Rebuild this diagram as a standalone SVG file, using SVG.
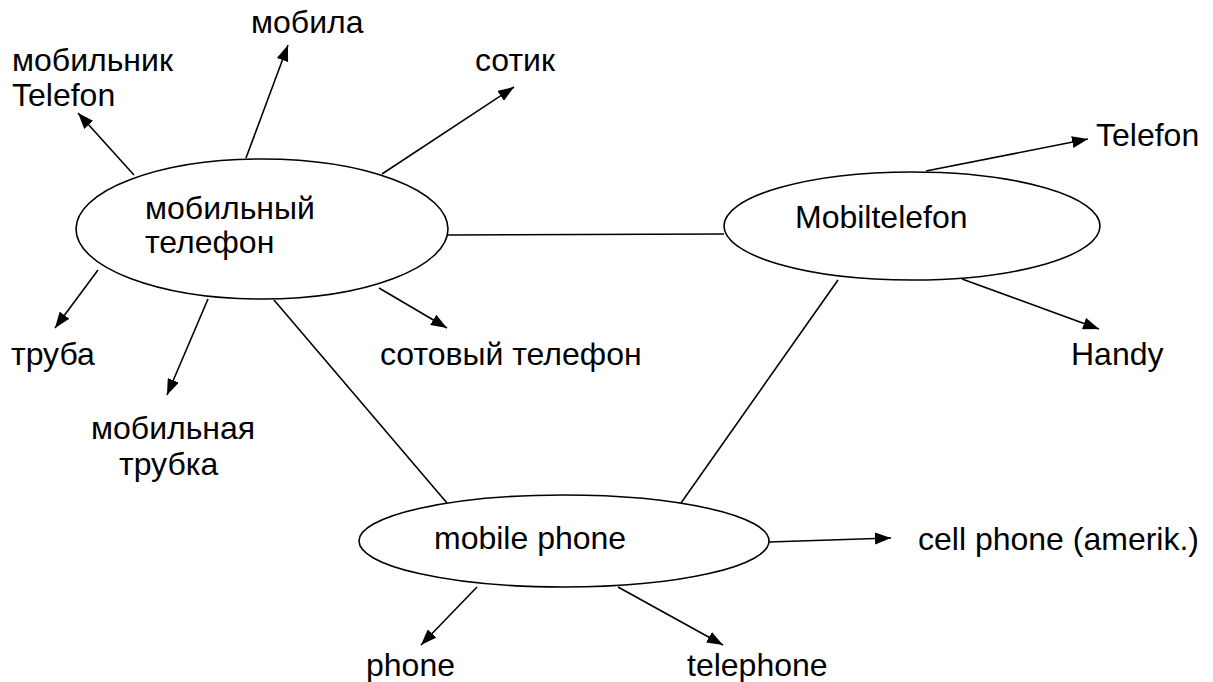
<svg xmlns="http://www.w3.org/2000/svg" width="1213" height="682" viewBox="0 0 1213 682">
<style>
.node ellipse{fill:#fff;stroke:#000;stroke-width:1.6}
text{font-family:"Liberation Sans",Arial,sans-serif;font-size:32px;fill:#000}
.c line{stroke:#000;stroke-width:1.6}
</style>
<defs>
<marker id="ah" viewBox="0 0 16 12" refX="16" refY="6" markerWidth="16" markerHeight="12" markerUnits="userSpaceOnUse" orient="auto">
<path d="M0,0L16,6L0,12z" fill="#000"/>
</marker>
</defs>
<rect width="1213" height="682" fill="#fff"/>
<g id="connectors" class="c">
<line x1="134" y1="175" x2="78" y2="113" marker-end="url(#ah)"/>
<line x1="246" y1="158" x2="288" y2="45" marker-end="url(#ah)"/>
<line x1="382" y1="174" x2="514" y2="87" marker-end="url(#ah)"/>
<line x1="448" y1="235" x2="724" y2="234"/>
<line x1="98" y1="270" x2="55" y2="328" marker-end="url(#ah)"/>
<line x1="208" y1="299" x2="167" y2="395" marker-end="url(#ah)"/>
<line x1="274" y1="300" x2="447" y2="503"/>
<line x1="379" y1="288" x2="447" y2="328" marker-end="url(#ah)"/>
<line x1="926" y1="171" x2="1088" y2="139" marker-end="url(#ah)"/>
<line x1="962" y1="279" x2="1099" y2="329" marker-end="url(#ah)"/>
<line x1="838" y1="280" x2="681" y2="503"/>
<line x1="769" y1="542" x2="891" y2="538" marker-end="url(#ah)"/>
<line x1="477" y1="587" x2="421" y2="645" marker-end="url(#ah)"/>
<line x1="618" y1="587" x2="723" y2="645" marker-end="url(#ah)"/>
</g>
<g id="n-mob-tel" class="node">
<ellipse cx="262" cy="229" rx="186" ry="70"/>
<text x="145" y="219">мобильный</text>
<text x="145" y="253">телефон</text>
</g>
<g id="n-mobiltelefon" class="node">
<ellipse cx="912" cy="226" rx="188" ry="54"/>
<text x="795" y="228">Mobiltelefon</text>
</g>
<g id="n-mobile-phone" class="node">
<ellipse cx="564" cy="541" rx="205" ry="46"/>
<text x="434" y="549">mobile phone</text>
</g>
<g id="t-mobilnik"><text x="12" y="71">мобильник</text><text x="12" y="106">Telefon</text></g>
<g id="t-mobila"><text x="251" y="33">мобила</text></g>
<g id="t-sotik"><text x="475" y="71">сотик</text></g>
<g id="t-truba"><text x="11" y="365">труба</text></g>
<g id="t-mob-trubka"><text x="91" y="439">мобильная</text><text x="119" y="475">трубка</text></g>
<g id="t-sotovy"><text x="380" y="365">сотовый телефон</text></g>
<g id="t-telefon-de"><text x="1096" y="146">Telefon</text></g>
<g id="t-handy"><text x="1071" y="365">Handy</text></g>
<g id="t-cell"><text x="918" y="550">cell phone (amerik.)</text></g>
<g id="t-phone"><text x="366" y="676">phone</text></g>
<g id="t-telephone"><text x="687" y="676">telephone</text></g>
</svg>
